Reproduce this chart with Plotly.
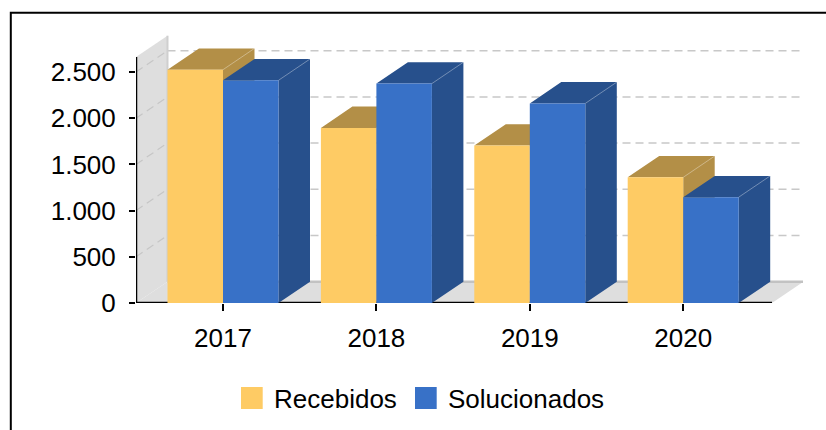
import plotly.graph_objects as go

# ---------------- data ----------------
years = ["2017", "2018", "2019", "2020"]
series_names = ["Recebidos", "Solucionados"]
recebidos = [2525, 1895, 1705, 1360]
solucionados = [2410, 2375, 2160, 1145]
y_tick_vals = [0, 500, 1000, 1500, 2000, 2500]

# ---------------- styles ----------------
front_colors = ["#FECB64", "#3871C7"]
depth_colors = ["#B38F47", "#27508C"]
FONT = "Liberation Sans, Arial, sans-serif"

# ---------------- geometry (pixels) ----------------
W, H = 826, 430
L, R, T, B = 136, 803, 35, 303        # plot area in pixels
C0, STEP = 223, 153.4                 # first category centre, px per category
VPX = (303 - 72) / 2500               # px per value unit
BAR = 55.5 / STEP                     # bar width (category units)
DX = 31.5 / STEP                      # depth offset x (category units)
DY = 21.3 / VPX                       # depth offset y (value units)
xr = [(L - C0) / STEP, (R - C0) / STEP]
yr = [0, (B - T) / VPX]
x_front_right = (772 - C0) / STEP
box_top = (B - 57) / VPX


def px(p):
    return (p - L) / (R - L)


def py(p):
    return (B - p) / (B - T)


fig = go.Figure()


def poly(xs, ys, color):
    fig.add_trace(go.Scatter(x=xs, y=ys, mode="lines", fill="toself",
                             fillcolor=color, line=dict(width=0, color=color),
                             hoverinfo="skip", showlegend=False))


def seg(xs, ys, color, width, dash="solid"):
    fig.add_trace(go.Scatter(x=xs, y=ys, mode="lines",
                             line=dict(color=color, width=width, dash=dash),
                             hoverinfo="skip", showlegend=False))


x0 = xr[0]
# left wall
poly([x0, x0 + DX, x0 + DX, x0, x0], [0, DY, box_top + DY, box_top, 0], "#DEDEDE")
# floor
poly([x0, x_front_right, x_front_right + DX, x0 + DX, x0], [0, 0, DY, DY, 0], "#DEDEDE")

# grid lines on back plane and wall diagonals
gx, gy, wx, wy = [], [], [], []
for v in y_tick_vals[1:]:
    gx += [x0 + DX, x_front_right + DX, None]
    gy += [v + DY, v + DY, None]
    wx += [x0, x0 + DX, None]
    wy += [v, v + DY, None]
seg(gx, gy, "#C8C8C8", 1.5, "8px,5px")
seg(wx, wy, "#C6C6C6", 1.2, "8px,5px")
# floor back edge and wall edge
seg([x0 + DX, x_front_right + DX], [DY, DY], "#C2C2C2", 2.5)
seg([x0 + DX, x0 + DX], [DY, box_top + DY], "#CFCFCF", 2)

# x axis line (under bars)
seg([x0, x_front_right], [0, 0], "#000000", 2.6)

# bars
series = [recebidos, solucionados]
for s, vals in enumerate(series):
    tx, ty, fx, fy, ex, ey = [], [], [], [], [], []
    for i, v in enumerate(vals):
        a = i - BAR + s * BAR
        b = a + BAR
        # top face + side face
        tx += [a, b, b + DX, a + DX, a, None]
        ty += [v, v, v + DY, v + DY, v, None]
        tx += [b, b + DX, b + DX, b, b, None]
        ty += [v, v + DY, DY, 0, v, None]
        fx += [a, b, b, a, a, None]
        fy += [0, 0, v, v, 0, None]
        ex += [b, b + DX, None]
        ey += [v, v + DY, None]
    poly(tx, ty, depth_colors[s])
    seg(ex, ey, "rgba(255,255,255,0.35)", 1)
    poly(fx, fy, front_colors[s])

# y axis line
shapes = [
    dict(type="line", xref="x", yref="y", x0=x0, x1=x0, y0=0, y1=box_top,
         line=dict(color="#000000", width=2.5)),
    # outer frame
    dict(type="rect", xref="paper", yref="paper",
         x0=px(10.8), x1=px(840), y0=py(12.7), y1=py(450),
         line=dict(color="#000000", width=2), fillcolor="rgba(0,0,0,0)"),
]

# legend (manual)
annotations = []
leg = [(241, 274), (415, 448)]
for s, (sq, tx) in enumerate(leg):
    shapes.append(dict(type="rect", xref="paper", yref="paper",
                       x0=px(sq), x1=px(sq + 21.7), y0=py(387), y1=py(409),
                       line=dict(width=0), fillcolor=front_colors[s]))
    annotations.append(dict(xref="paper", yref="paper", x=px(tx - 2), y=py(398.5),
                            xanchor="left", yanchor="middle", showarrow=False,
                            text=series_names[s],
                            font=dict(family=FONT, size=26, color="#000000")))

fig.update_layout(
    width=W, height=H,
    margin=dict(l=L, r=W - R, t=T, b=H - B, pad=0),
    paper_bgcolor="#FFFFFF", plot_bgcolor="rgba(0,0,0,0)",
    separators=",.",
    showlegend=False,
    font=dict(family=FONT, size=26, color="#000000"),
    shapes=shapes, annotations=annotations,
    xaxis=dict(range=xr, tickvals=list(range(len(years))), ticktext=years,
               showgrid=False, zeroline=False, showline=False,
               ticks="outside", ticklen=7, tickwidth=2, tickcolor="#000000",
               ticklabelstandoff=5,
               tickfont=dict(family=FONT, size=26, color="#000000")),
    yaxis=dict(range=yr, tickvals=y_tick_vals, tickformat=",d",
               showgrid=False, zeroline=False, showline=False,
               ticks="outside", ticklen=6, tickwidth=2, tickcolor="#000000",
               ticklabelstandoff=8,
               tickfont=dict(family=FONT, size=26, color="#000000")),
)

fig.write_html("out.html", config={"displayModeBar": False},
               post_script="document.body.style.margin='0px';")
